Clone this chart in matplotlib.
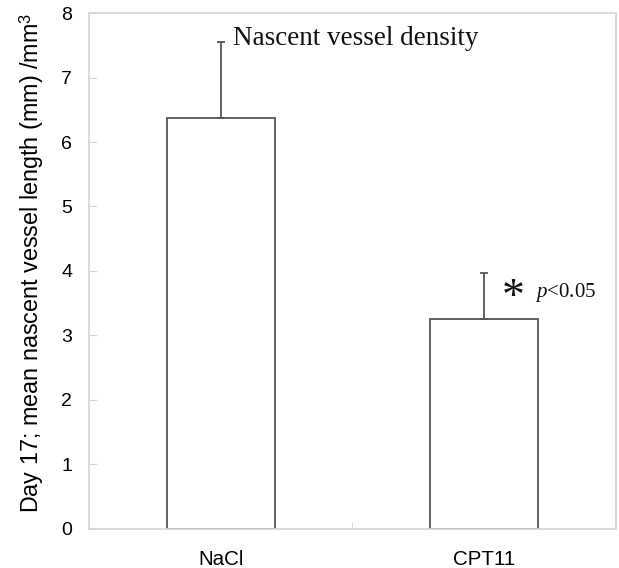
import matplotlib
matplotlib.use("Agg")
import matplotlib.pyplot as plt

# data
groups = ["NaCl", "CPT11"]
means = [6.37, 3.26]
errs = [1.18, 0.71]
yticks = [0, 1, 2, 3, 4, 5, 6, 7, 8]

frame_col = "#d4d4d4"
edge_col = "#555555"

plt.rcParams["mathtext.fontset"] = "custom"
plt.rcParams["mathtext.rm"] = "Liberation Sans"
plt.rcParams["mathtext.it"] = "Liberation Serif:italic"

fig = plt.figure(figsize=(6.19, 5.68), dpi=100)
ax = fig.add_axes([0.1438, 0.0687, 0.8512, 0.9084])

x = list(range(len(groups)))
ax.bar(x, means, width=0.41, color="white", edgecolor=edge_col, linewidth=1.3, zorder=2)
# only the upper half of the error bar is shown
ax.errorbar(x, means, yerr=[[0] * len(errs), errs], fmt="none", ecolor=edge_col,
            elinewidth=1.3, capsize=3, capthick=1.3, zorder=3)

ax.set_xlim(-0.5, 1.5)
ax.set_ylim(0, 8)
ax.set_yticks(yticks)
ax.set_xticks(x)
ax.set_xticklabels(groups, fontsize=14.8, family="Liberation Sans")
ax.set_yticklabels([str(t) for t in yticks], fontsize=14, family="Liberation Sans")

# Excel style: ticks between categories, frame in light gray
ax.set_xticks([0.5], minor=True)
ax.tick_params(axis="x", which="major", length=0, pad=15)
ax.tick_params(axis="x", which="minor", direction="in", length=5, color=frame_col)
ax.tick_params(axis="y", direction="in", length=6, color=frame_col, pad=12)
for s in ax.spines.values():
    s.set_color(frame_col)
    s.set_linewidth(1.2)

ax.set_ylabel("Day 17; mean nascent vessel length (mm) /mm$^3$", fontsize=16.8,
              family="Liberation Sans")
ax.yaxis.set_label_coords(-0.081, 0.515)

ax.text(0.046, 7.50, "Nascent vessel density", fontsize=19.5, family="Liberation Serif",
        va="baseline", ha="left", color="#111111")
ax.text(1.111, 3.57, "*", fontsize=33, family="Liberation Serif",
        ha="center", va="center", color="#111111")
ax.text(1.193, 3.60, "$p$<0.05", fontsize=15, family="Liberation Serif",
        va="baseline", ha="left", color="#111111")

fig.savefig("out.png", dpi=100)
